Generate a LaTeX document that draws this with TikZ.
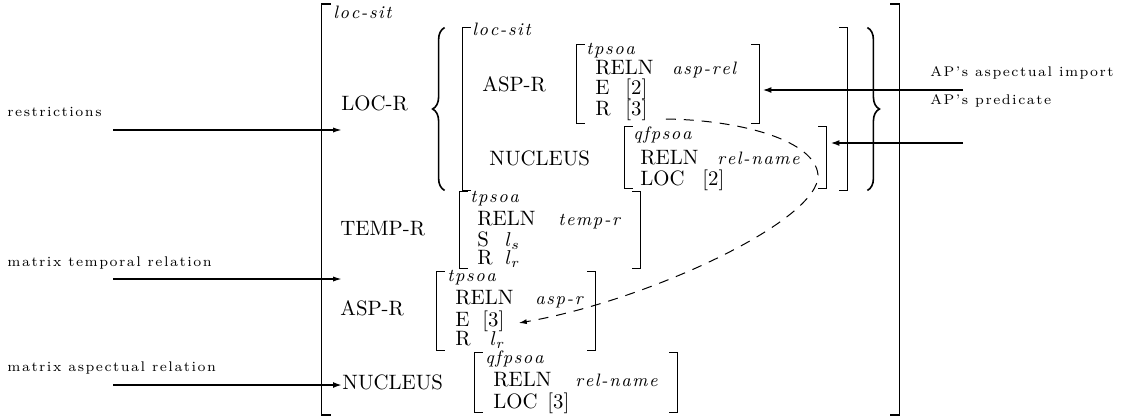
\documentclass[tikz,border=0pt]{standalone}
\usepackage{fontspec}
\usetikzlibrary{arrows.meta,decorations.pathreplacing}

% letter-spaced words: each character is followed by a kern of \spk
\newdimen\spk
\def\spchars#1{\ifx#1\relax\else#1\kern\spk\expandafter\spchars\fi}
\newcommand{\typew}[1]{{\spk=0.8pt\spchars#1\relax}}
\newcommand{\sidew}[1]{{\spk=0.75pt\spchars#1\relax}}

% brackets round an attribute-value box (node name, serif length)
\newcommand{\avmbrackets}[2]{%
  \draw[brk] ([xshift=#2]#1.north west) -- (#1.north west) -- (#1.south west) -- ([xshift=#2]#1.south west);
  \draw[brk] ([xshift=-#2]#1.north east) -- (#1.north east) -- (#1.south east) -- ([xshift=-#2]#1.south east);
}

\tikzset{
  txt/.style={anchor=base west, inner sep=0pt, font=\fontsize{10.4}{12}\selectfont},
  typ/.style={anchor=base west, inner sep=0pt, font=\fontsize{9}{10}\selectfont\itshape},
  side/.style={anchor=base west, inner sep=0pt, font=\fontsize{7}{8}\selectfont},
  avm/.style={draw=none, inner sep=0pt, rectangle},
  brk/.style={line width=0.65pt},
  thinarrow/.style={line width=0.75pt, -{Latex[length=4.5pt,width=2.6pt]}},
  thickarrow/.style={line width=1.25pt, -{Latex[length=4.5pt,width=3pt]}},
  dasharrow/.style={line width=0.5pt, dash pattern=on 5pt off 4pt, -{Latex[length=4pt,width=2.5pt]}},
  bracestyle/.style={line width=0.8pt, decorate, decoration={brace, amplitude=6pt}},
}

\begin{document}
\begin{tikzpicture}[x=0.5pt, y=-0.5pt]
\useasboundingbox (0,0) rectangle (1122,419);

% ---- bracket boxes ----
\node[avm, minimum width=288.5pt, minimum height=205pt] (outer) at (610.5,209.5) {};
\node[avm, minimum width=192pt, minimum height=81pt] (inner) at (655,109) {};
\node[avm, minimum width=91pt, minimum height=39pt] (aspA) at (668,84) {};
\node[avm, minimum width=100.5pt, minimum height=30.5pt] (nucA) at (725.5,157.5) {};
\node[avm, minimum width=90pt, minimum height=38pt] (tempB) at (550,230) {};
\node[avm, minimum width=79pt, minimum height=39pt] (aspB) at (516,311) {};
\node[avm, minimum width=101pt, minimum height=29.5pt] (nucB) at (576,382.5) {};

\avmbrackets{outer}{4.5pt}
\avmbrackets{inner}{4pt}
\avmbrackets{aspA}{4pt}
\avmbrackets{nucA}{4pt}
\avmbrackets{tempB}{4pt}
\avmbrackets{aspB}{4pt}
\avmbrackets{nucB}{4pt}

% braces round the set of restrictions
\draw[bracestyle] ([xshift=-9pt]inner.south west) -- ([xshift=-9pt]inner.north west);
\draw[bracestyle] ([xshift=10pt]inner.north east) -- ([xshift=10pt]inner.south east);

% ---- outer structure ----
\node[typ] (outerType) at (333,18) {\typew{loc-sit}};
\node[txt] (locR) at (341,110) {LOC-R};

% ---- restriction ----
\node[typ] (innerType) at (472,35) {\typew{loc-sit}};
\node[txt] (aspRa) at (482,91) {ASP-R};
\node[typ] (aspAType) at (586,54) {\typew{tpsoa}};
\node[txt] (aspAreln) at (595,74) {RELN};
\node[typ] (aspArelv) at (672,74) {\typew{asp-rel}};
\node[txt] (aspAe) at (595,94) {E};
\node[txt] (aspAe2) at (625,94) {[2]};
\node[txt] (aspAr) at (595,115) {R};
\node[txt] (r3) at (625,115) {[3]};

\node[txt] (nucRa) at (489,165) {NUCLEUS};
\node[typ] (nucAType) at (633,139) {\typew{qfpsoa}};
\node[txt] (nucAreln) at (640,164) {RELN};
\node[typ] (nucArelv) at (717,164) {\typew{rel-name}};
\node[txt] (nucAloc) at (640,185) {LOC};
\node[txt] (nucAloc2) at (702,185) {[2]};

% ---- temporal relation ----
\node[txt] (tempR) at (340,235) {TEMP-R};
\node[typ] (tempType) at (470,202) {\typew{tpsoa}};
\node[txt] (tempReln) at (477,225) {RELN};
\node[typ] (tempRelv) at (558,225) {\typew{temp-r}};
\node[txt] (tempS) at (477,246) {S};
\node[txt] (tempSv) at (505,246) {$l_s$};
\node[txt] (tempRr) at (477,264) {R};
\node[txt] (tempRv) at (505,264) {$l_r$};

% ---- aspectual relation ----
\node[txt] (aspRb) at (340,315) {ASP-R};
\node[typ] (aspBType) at (447,281) {\typew{tpsoa}};
\node[txt] (aspBreln) at (455,304) {RELN};
\node[typ] (aspBrelv) at (535,304) {\typew{asp-r}};
\node[txt] (aspBe) at (455,326) {E};
\node[txt] (e3) at (482,326) {[3]};
\node[txt] (aspBr) at (455,345) {R};
\node[txt] (aspBrv) at (490,345) {$l_r$};

% ---- nucleus ----
\node[txt] (nucRb) at (342,389) {NUCLEUS};
\node[typ] (nucBType) at (485,363) {\typew{qfpsoa}};
\node[txt] (nucBreln) at (493,386) {RELN};
\node[typ] (nucBrelv) at (575,386) {\typew{rel-name}};
\node[txt] (nucBloc) at (493,408) {LOC};
\node[txt] (nucBloc3) at (547,408) {[3]};

% ---- side labels ----
\node[side] (restrLbl) at (7,116) {\sidew{restrictions}};
\node[side] (tempLbl) at (7,266) {\sidew{matrix}\ \sidew{temporal}\ \sidew{relation}};
\node[side] (aspLbl) at (7,371) {\sidew{matrix}\ \sidew{aspectual}\ \sidew{relation}};
\node[side] (impLbl) at (930,76) {\sidew{AP's}\ \sidew{aspectual}\ \sidew{import}};
\node[side] (predLbl) at (930,104) {\sidew{AP's}\ \sidew{predicate}};

% ---- arrows ----
\coordinate (restrFrom) at (113,130);
\coordinate (restrTo) at (342,130);
\coordinate (tempFrom) at (113,279);
\coordinate (tempTo) at (342,279);
\coordinate (aspFrom) at (113,385);
\coordinate (aspTo) at (342,385);
\coordinate (impFrom) at (963,90);
\coordinate (predFrom) at (963,143);
\coordinate (loopTurn) at (818,175);

\draw[thinarrow] (restrFrom) -- (restrTo);
\draw[thinarrow] (tempFrom) -- (tempTo);
\draw[thickarrow] (aspFrom) -- (aspTo);
\draw[thickarrow] (impFrom) -- ([xshift=1.5pt]impFrom -| aspA.east);
\draw[thickarrow] (predFrom) -- ([xshift=2pt]predFrom -| nucA.east);

% structure sharing of [3]
\draw[dasharrow] ([xshift=9pt,yshift=-2pt]r3.base east)
  .. controls (740,120) and (815,140) .. (loopTurn)
  .. controls (820,220) and (650,300) .. ([xshift=7pt,yshift=1.5pt]e3.base east);
\end{tikzpicture}
\end{document}
